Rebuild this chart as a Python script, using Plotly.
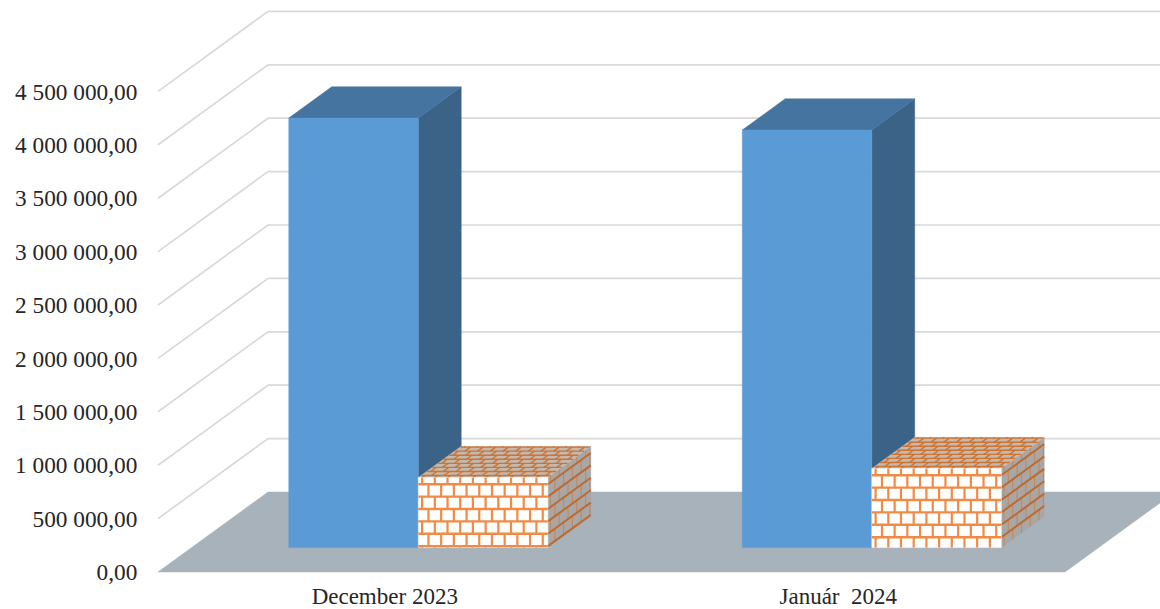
import plotly.graph_objects as go

categories = ["December 2023", "Január\u00a0\u00a02024"]
series_blue = [4022000, 3910000]
series_brick = [656000, 740000]
tick_values = [0, 500000, 1000000, 1500000, 2000000, 2500000, 3000000, 3500000, 4000000, 4500000]

# oblique projection: one unit of depth shifts x and value by these amounts
DX = 0.24256
DY = 749064
D0, D1 = 0.305, 0.695
BAR_W = 0.2856
FONT = "Liberation Serif"

BLUE_FRONT, BLUE_TOP, BLUE_SIDE = "#5B9BD5", "#4674A0", "#3A6387"
GRID = "#D9D9D9"
FLOOR = "#A8B2BA"


def proj(x, v, d):
    return x + d * DX, v + d * DY


fig = go.Figure()


def poly(points, fill, name=None):
    xs, ys = zip(*[proj(*p) for p in points])
    fig.add_trace(go.Scatter(x=list(xs) + [xs[0]], y=list(ys) + [ys[0]], mode="lines", fill="toself",
                             fillcolor=fill, line=dict(color=fill, width=0.5), name=name,
                             hoverinfo="skip", showlegend=False))


def segs(seglist, color, width):
    xs, ys = [], []
    for a, b in seglist:
        ax, ay = proj(*a)
        bx, by = proj(*b)
        xs += [ax, bx, None]
        ys += [ay, by, None]
    fig.add_trace(go.Scatter(x=xs, y=ys, mode="lines", line=dict(color=color, width=width),
                             hoverinfo="skip", showlegend=False, connectgaps=False))


def bricks(origin, u, v, ulen, vlen, ustep, vstep, vfirst, color, width, vwidth=None, vcolor=None):
    """mortar lines on the face origin + s*u + t*v (s, t in 0..1)"""
    def pt(s, t):
        return tuple(origin[i] + s * u[i] + t * v[i] for i in range(3))
    rows, cols = [], []
    us, vs = ustep / ulen, vstep / vlen
    t = vfirst / vlen
    edges = [0.0]
    while t < 1:
        rows.append((pt(0, t), pt(1, t)))
        edges.append(t)
        t += vs
    edges.append(1.0)
    for r in range(len(edges) - 1):
        s = (us / 2 if r % 2 else 0.0) + us * 0.3
        while s < 1:
            cols.append((pt(s, edges[r]), pt(s, edges[r + 1])))
            s += us
    segs(cols, vcolor or color, vwidth or width)
    segs(rows, color, width)


# floor and walls
grid_segs = []
for t in tick_values:
    grid_segs.append(((-0.5, t, 0), (-0.5, t, 1)))
    grid_segs.append(((-0.5, t, 1), (1.5, t, 1)))
segs(grid_segs[2:], GRID, 1.7)
poly([(-0.5, 0, 0), (1.5, 0, 0), (1.5, 0, 1), (-0.5, 0, 1)], FLOOR)

for i in range(len(categories)):
    # blue bar
    l, r = i - BAR_W, i
    h = series_blue[i]
    poly([(r, 0, D0), (r, 0, D1), (r, h, D1), (r, h, D0)], BLUE_SIDE)
    poly([(l, h, D0), (r, h, D0), (r, h, D1), (l, h, D1)], BLUE_TOP)
    poly([(l, 0, D0), (r, 0, D0), (r, h, D0), (l, h, D0)], BLUE_FRONT, categories[i])

    # brick bar
    l, r = i, i + BAR_W
    h = series_brick[i]
    W, H, D = BAR_W, h, D1 - D0
    UX, UY, UD = 0.028, 116000, 0.0725
    poly([(r, 0, D0), (r, 0, D1), (r, h, D1), (r, h, D0)], "#A9A7A6")
    bricks((r, h, D0), (0, 0, D), (0, -h, 0), D, H, UD * 1.1, UY, UY * 0.54, "#BC6A30", 2.0, 1.2, "#C08A62")
    poly([(l, h, D0), (r, h, D0), (r, h, D1), (l, h, D1)], "#C4B9AF")
    bricks((l, h, D0), (W, 0, 0), (0, 0, D), W, D, UX, UD * 0.7, UD * 0.35, "#CC7434", 1.4, 1.4)
    poly([(l, 0, D0), (r, 0, D0), (r, h, D0), (l, h, D0)], "#FFFFFF", categories[i])
    bricks((l, h, D0), (W, 0, 0), (0, -h, 0), W, H, UX, UY, UY * 0.54, "#F18A44", 2.4, 2.2)

fig.update_layout(
    width=1160, height=609,
    margin=dict(l=145, r=0, t=0, b=33, pad=0),
    paper_bgcolor="white", plot_bgcolor="white",
    showlegend=False, hovermode=False,
    separators=", ",
    font=dict(family=FONT, size=23.3, color="#262626"),
    xaxis=dict(range=[-0.5287, 1.7095], tickvals=[0, 1], ticktext=categories, showgrid=False, zeroline=False,
               showline=False, ticks="", ticklabelstandoff=4, tickfont=dict(size=23), fixedrange=True,
               automargin=False),
    yaxis=dict(range=[-37453, 5355805], tickvals=tick_values, tickformat=",.2f", showgrid=False, zeroline=False,
               showline=False, ticks="outside", ticklen=2, tickcolor="rgba(0,0,0,0)", fixedrange=True,
               automargin=False),
)
fig.write_html("out.html", post_script="document.body.style.margin='0';", config={"displayModeBar": False})
